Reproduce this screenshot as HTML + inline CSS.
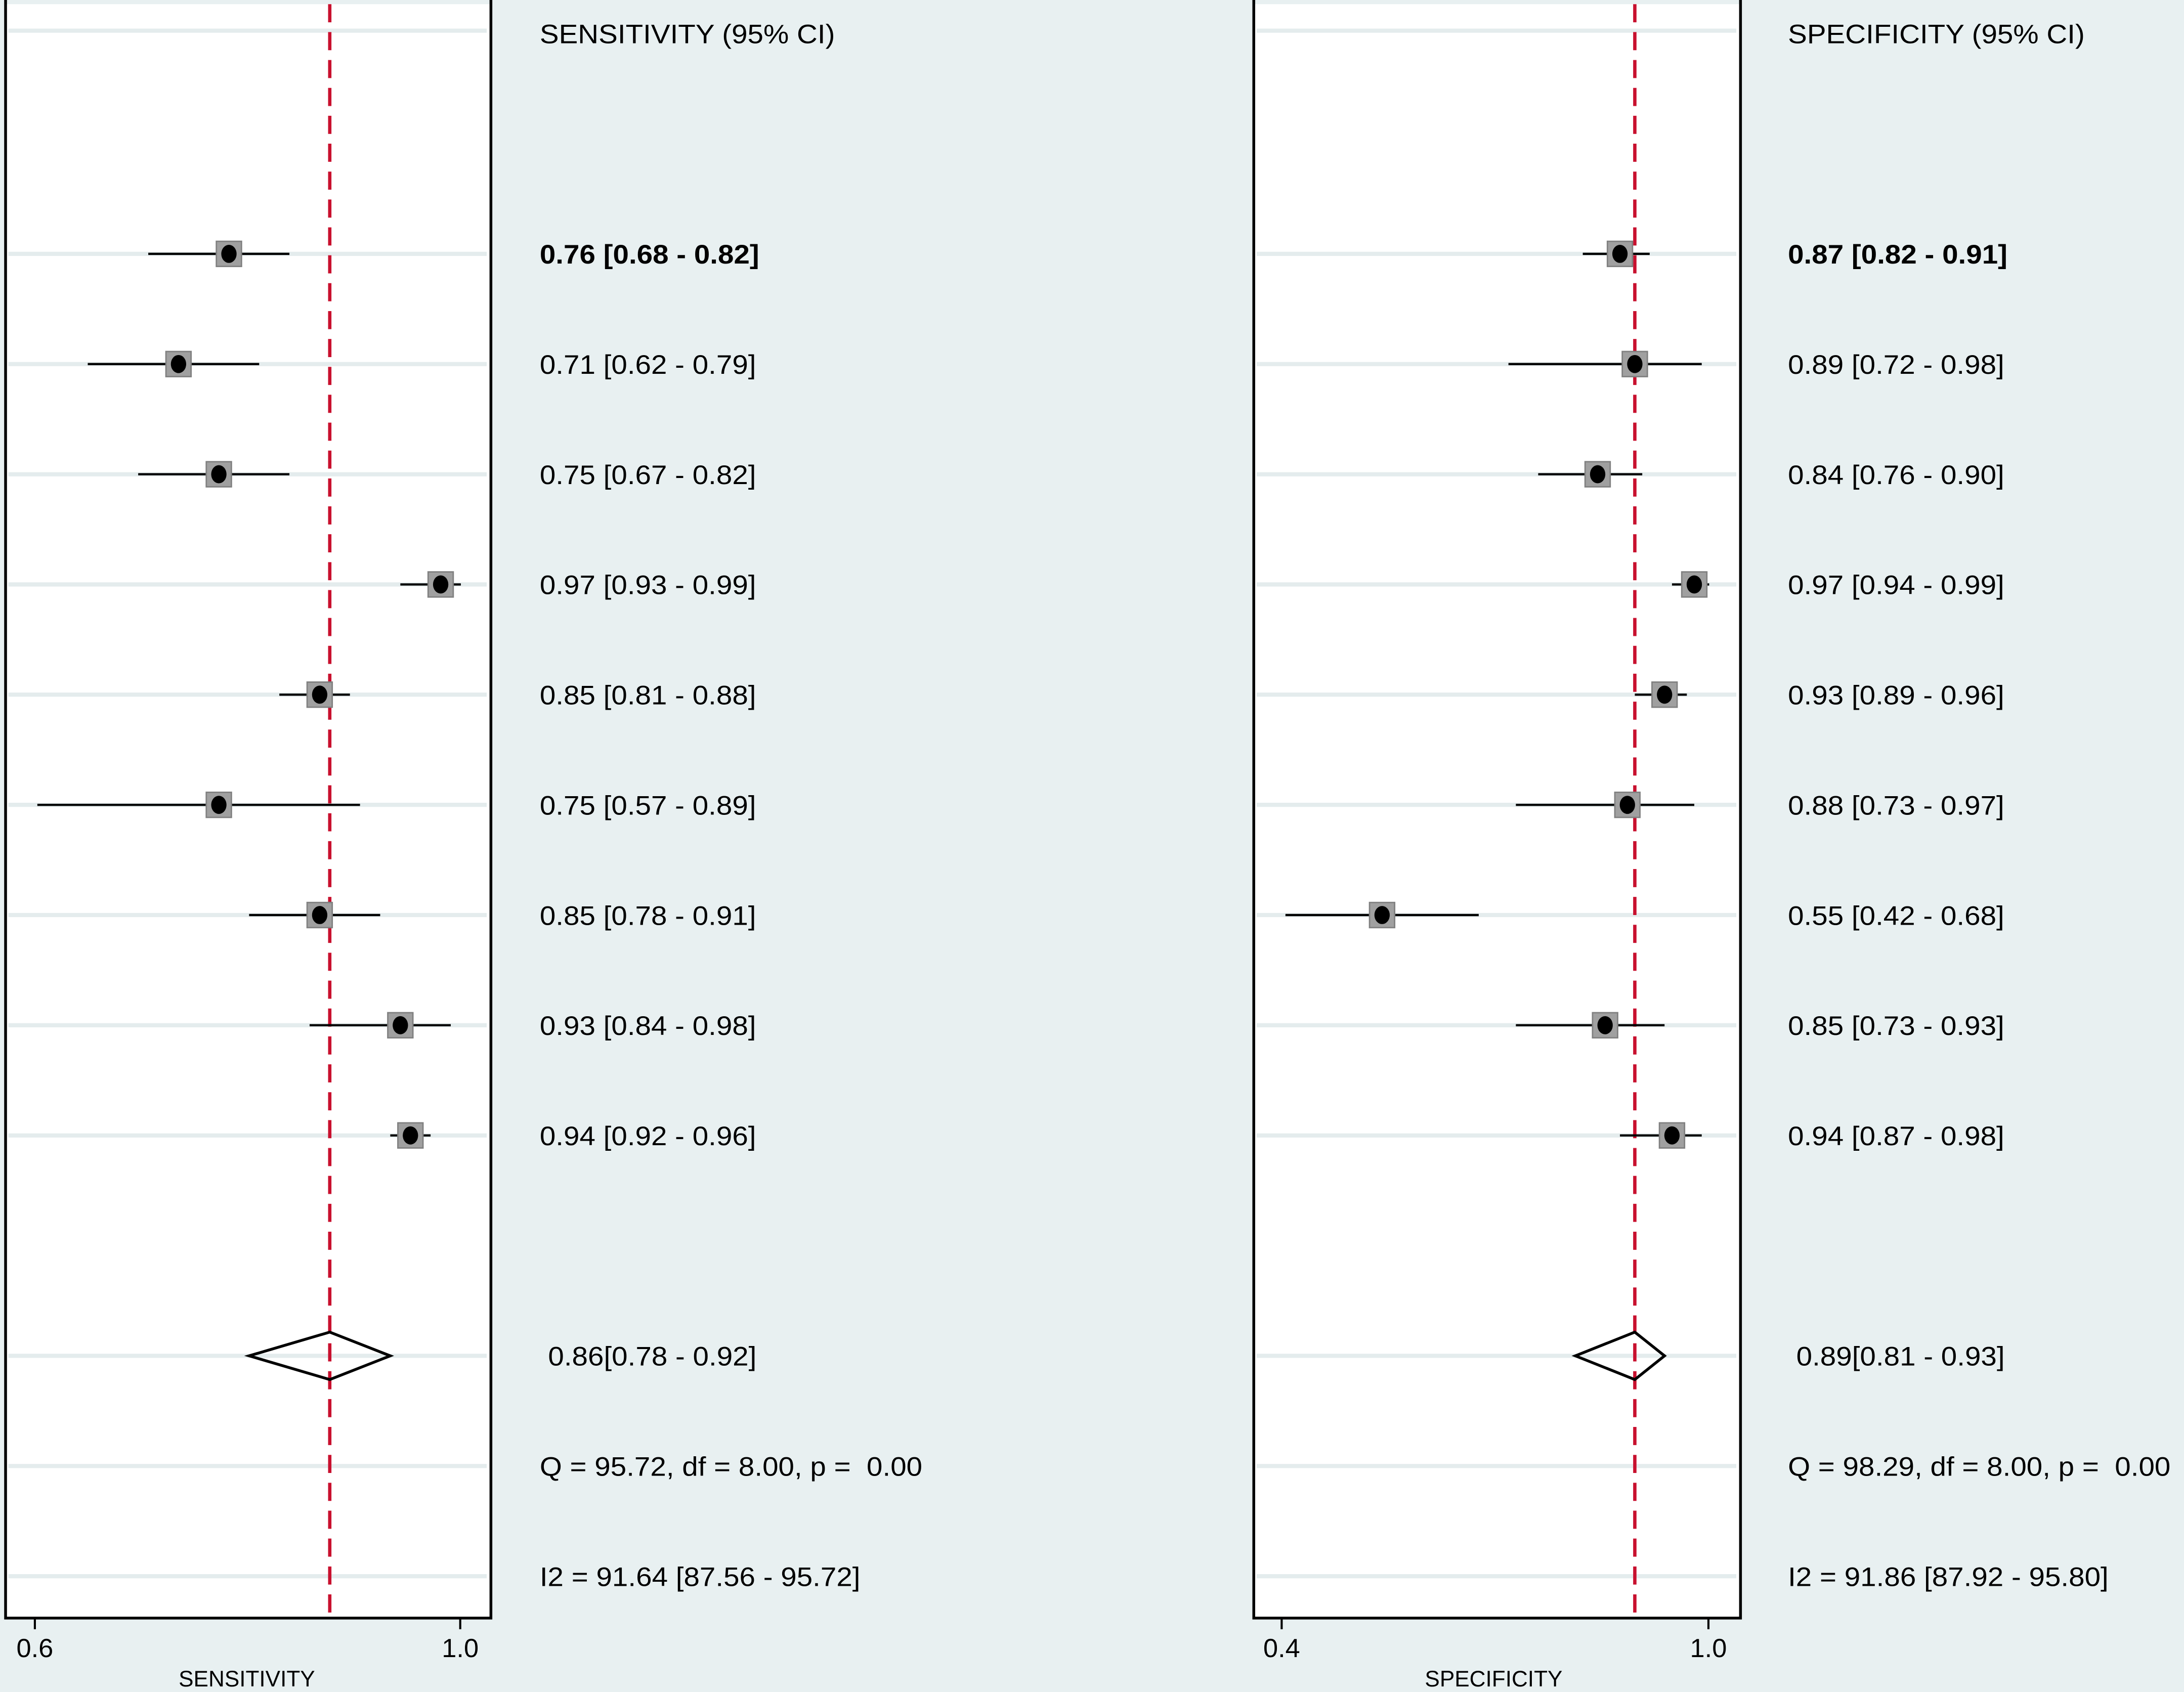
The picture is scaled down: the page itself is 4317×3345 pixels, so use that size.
<!DOCTYPE html>
<html><head><meta charset="utf-8"><style>
html,body{margin:0;padding:0;background:#e8f0f1;}
svg{display:block;}
text{font-family:"Liberation Sans",sans-serif;fill:#000;white-space:pre;}
</style></head><body>
<svg id="chart" width="4317" height="3345" viewBox="0 0 1566 1213" preserveAspectRatio="none" xmlns="http://www.w3.org/2000/svg">
<rect x="0" y="0" width="1566" height="1213" fill="#e8f0f1"/>
<g id="g"></g>
</svg>
<script>
const rowsSens = [0.76,0.71,0.75,0.97,0.85,0.75,0.85,0.93,0.94];
const loSens = [0.68,0.62,0.67,0.93,0.81,0.57,0.78,0.84,0.92];
const hiSens = [0.82,0.79,0.82,0.99,0.88,0.89,0.91,0.98,0.96];
const rowsSpec = [0.87,0.89,0.84,0.97,0.93,0.88,0.55,0.85,0.94];
const loSpec = [0.82,0.72,0.76,0.94,0.89,0.73,0.42,0.73,0.87];
const hiSpec = [0.91,0.98,0.90,0.99,0.96,0.97,0.68,0.93,0.98];
const pooledSens = [0.86,0.78,0.92];
const pooledSpec = [0.89,0.81,0.93];
const statsSens = ["Q = 95.72, df = 8.00, p =  0.00","I2 = 91.64 [87.56 - 95.72]"];
const statsSpec = ["Q = 98.29, df = 8.00, p =  0.00","I2 = 91.86 [87.92 - 95.80]"];
const tickLabelsSens = ["0.6","1.0"];
const tickLabelsSpec = ["0.4","1.0"];

const NS="http://www.w3.org/2000/svg";
const g=document.getElementById('g');
function mk(tag,attrs,parent){const e=document.createElementNS(NS,tag);for(const k in attrs)e.setAttribute(k,attrs[k]);(parent||g).appendChild(e);return e;}
const rowY=i=>182+i*79;
const f2=v=>v.toFixed(2);
function txt(parent,x,y,size,s,extra){
  const t=mk('text',Object.assign({x:0,y:0,'font-size':size,transform:`translate(${x},${y}) scale(1.08,1)`},extra||{}),parent);
  t.textContent=s;return t;
}

function panel(cfg){
  const x=cfg.scale;
  const p=mk('g',{});
  
  
  const bg=mk('rect',{x:cfg.x0,y:3,width:cfg.x1-cfg.x0,height:1157,fill:'#ffffff'},p);
  
  
  const gys=[22];for(let i=0;i<9;i++)gys.push(rowY(i));gys.push(972,1051,1130);
  gys.forEach(y=>{const l=mk('line',{x1:cfg.x0+2,x2:cfg.x1-3,y1:y,y2:y,stroke:'#e4eced','stroke-width':3},p);
    
    });
  const px=x(cfg.pooled[0]);
  const ref=mk('line',{x1:px,x2:px,y1:3,y2:1160,stroke:'#c8102e','stroke-width':2.4,'stroke-dasharray':'13 7'},p);
  
  
  for(let i=0;i<cfg.est.length;i++){
    const y=rowY(i);
    const ci=mk('line',{x1:x(cfg.lo[i]),x2:x(cfg.hi[i]),y1:y,y2:y,stroke:'#000','stroke-width':1.6},p);
    
    
    const sq=mk('rect',{x:x(cfg.est[i])-9,y:y-9,width:18,height:18,fill:'#a0a0a0',stroke:'#808080','stroke-width':1},p);
    
    
    const dot=mk('ellipse',{cx:x(cfg.est[i]),cy:y,rx:5.5,ry:6.5,fill:'#000'},p);
    
    
    const t=txt(p,cfg.tx,y+7,19,f2(cfg.est[i])+' ['+f2(cfg.lo[i])+' - '+f2(cfg.hi[i])+']',{'font-weight':i===0?'bold':'normal'});
    
    
  }
  const [pe,pl,ph]=cfg.pooled;
  const d=mk('polygon',{points:`${x(pl)},972 ${x(pe)},955 ${x(ph)},972 ${x(pe)},989`,fill:'none',stroke:'#000','stroke-width':2},p);
  
  
  const pt=txt(p,cfg.tx+6,979,19,f2(pe)+'['+f2(pl)+' - '+f2(ph)+']');
  
  
  cfg.stats.forEach((s,k)=>{const t=txt(p,cfg.tx,(k?1130:1051)+7,19,s);
    
    });
  const h=txt(p,cfg.tx,31,19,cfg.header);
  
  
  const fr=mk('path',{d:`M${cfg.x0},0 V1160 H${cfg.x1} V0`,fill:'none',stroke:'#000','stroke-width':2},p);
  
  
  cfg.ticks.forEach((lab,k)=>{const tx=cfg.tickX[k];
    const tl=mk('line',{x1:tx,x2:tx,y1:1160,y2:1168,stroke:'#000','stroke-width':1.5},p);
    
    
    const tt=mk('text',{x:tx,y:1188,'font-size':19,'text-anchor':'middle'},p);tt.textContent=lab;
    
    });
  const at=mk('text',{x:cfg.titleX,y:1209,'font-size':16,'text-anchor':'middle'},p);at.textContent=cfg.title;
  
  
}
panel({name:'sensitivity',x0:4,x1:352,tx:387,scale:v=>128+(v-0.71)*723,est:rowsSens,lo:loSens,hi:hiSens,pooled:pooledSens,stats:statsSens,header:'SENSITIVITY (95% CI)',ticks:tickLabelsSens,tickX:[25,330],title:'SENSITIVITY',titleX:177});
panel({name:'specificity',x0:899,x1:1248,tx:1282,scale:v=>991+(v-0.55)*533,est:rowsSpec,lo:loSpec,hi:hiSpec,pooled:pooledSpec,stats:statsSpec,header:'SPECIFICITY (95% CI)',ticks:tickLabelsSpec,tickX:[919,1225],title:'SPECIFICITY',titleX:1071});
</script>
</body></html>
